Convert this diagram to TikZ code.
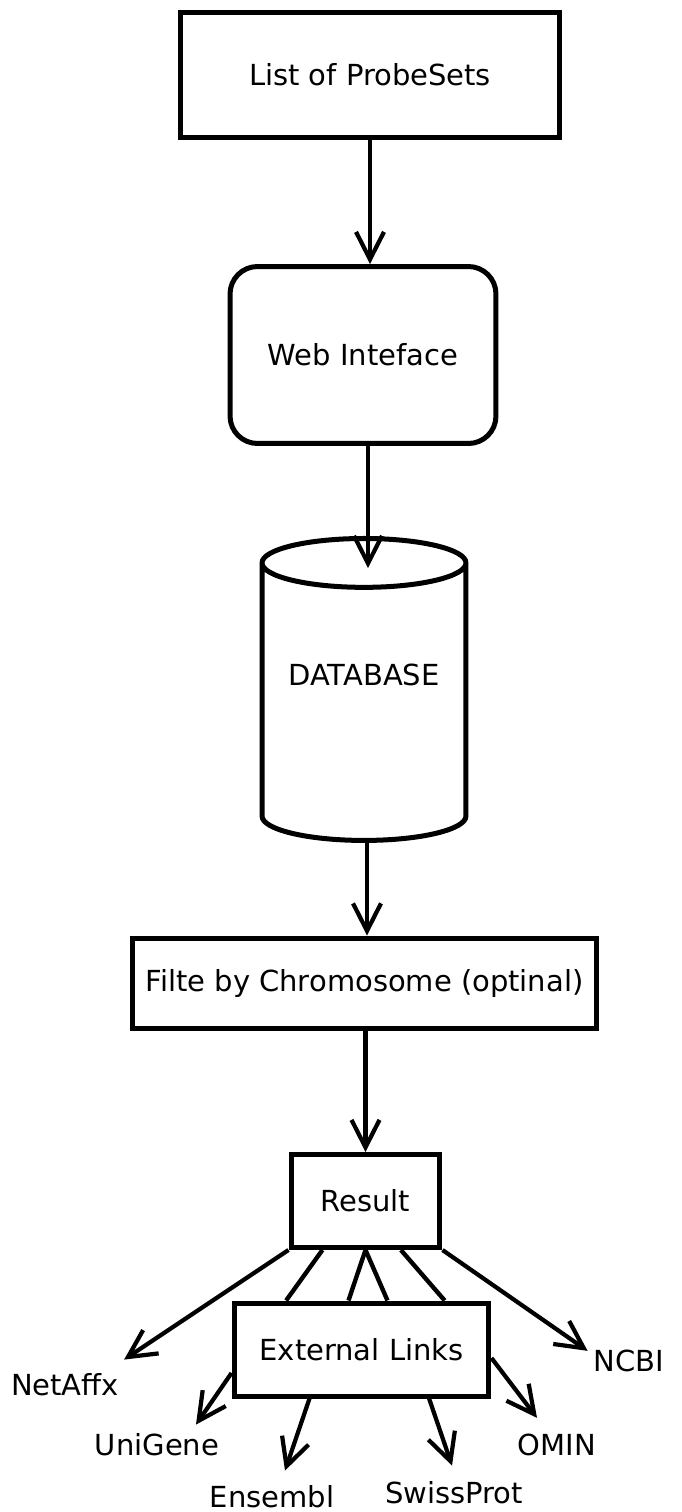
\documentclass[tikz,border=0pt]{standalone}
\usepackage{fontspec}
\setmainfont{DejaVu Sans}
\usetikzlibrary{arrows.meta,calc,shapes.geometric}
\tikzset{
  flow/.style={-{Straight Barb[length=0.55cm, width=0.56cm]}, line width=2.4pt},
  link/.style={line width=2.5pt},
  box/.style={draw, line width=2.85pt, rectangle, align=center},
  round box/.style={box, rounded corners=0.55cm},
  store/.style={draw, line width=2.85pt, cylinder, shape border rotate=90, aspect=0.3},
}

\begin{document}
\begin{tikzpicture}[x=0.02cm, y=-0.02cm, every node/.style={font=\fontsize{16.5}{20}\selectfont}]
  \useasboundingbox (0,0) rectangle (682,1512);

  % Main chain
  \node[box, minimum width=7.6cm, minimum height=2.52cm] (list) at (370,75) {List of ProbeSets};
  \node[round box, minimum width=5.32cm, minimum height=3.54cm] (web) at (363,355) {Web Inteface};
  \node[store, minimum width=4.08cm, minimum height=6.04cm, text depth=1.28cm] (db) at (364,707) {DATABASE};
  \node[box, minimum width=9.3cm, minimum height=1.8cm] (filter) at (364.5,983) {Filte by Chromosome (optinal)};
  \node[box, minimum width=2.98cm, minimum height=1.86cm] (result) at (365.5,1201) {Result};
  \node[box, minimum width=5.1cm, minimum height=1.86cm] (ext) at (361.5,1349.5) {External Links};

  % External sites
  \node (netaffx) at (65,1385) {NetAffx};
  \node (unigene) at (157,1445) {UniGene};
  \node (ensembl) at (272,1497) {Ensembl};
  \node (swissprot) at (454,1493) {SwissProt};
  \node (omin) at (557,1445) {OMIN};
  \node (ncbi) at (629,1361) {NCBI};

  % Arrows down the chain
  \draw[flow] (list.south) -- (web.north -| list.south);
  \draw[flow] ([xshift=0.08cm]web.south -| db.north) -- ([xshift=0.08cm,yshift=-0.64cm]db.north);
  \draw[flow] ([xshift=0.06cm]db.south) -- ([xshift=0.06cm]filter.north -| db.south);
  \draw[flow] (filter.south -| result.north) -- (result.north);

  % Result to external links
  \draw[link] ($(result.south west)!0.22!(result.south east)$) -- ($(ext.north west)!0.21!(ext.north east)$);
  \draw[link] (result.south) -- ($(ext.north west)!0.45!(ext.north east)$);
  \draw[link] (result.south) -- ($(ext.north west)!0.6!(ext.north east)$);
  \draw[link] ($(result.south west)!0.73!(result.south east)$) -- ($(ext.north west)!0.82!(ext.north east)$);

  % Arrows to the sites
  \draw[flow] (result.south west) -- ([shift={(-0.02cm,0.16cm)}]netaffx.north east);
  \draw[flow] (result.south east) -- ([shift={(0cm,-0.14cm)}]ncbi.north west);
  \draw[flow] ([yshift=-0.47cm]ext.west) -- ([shift={(0.78cm,0.06cm)}]unigene.north);
  \draw[flow] ($(ext.south west)!0.3!(ext.south east)$) -- ([shift={(0.26cm,0.18cm)}]ensembl.north);
  \draw[flow] ($(ext.south west)!0.76!(ext.south east)$) -- ([shift={(-0.04cm,0.2cm)}]swissprot.north);
  \draw[flow] ([yshift=-0.17cm]ext.east) -- ([shift={(-0.4cm,0.2cm)}]omin.north);
\end{tikzpicture}
\end{document}
